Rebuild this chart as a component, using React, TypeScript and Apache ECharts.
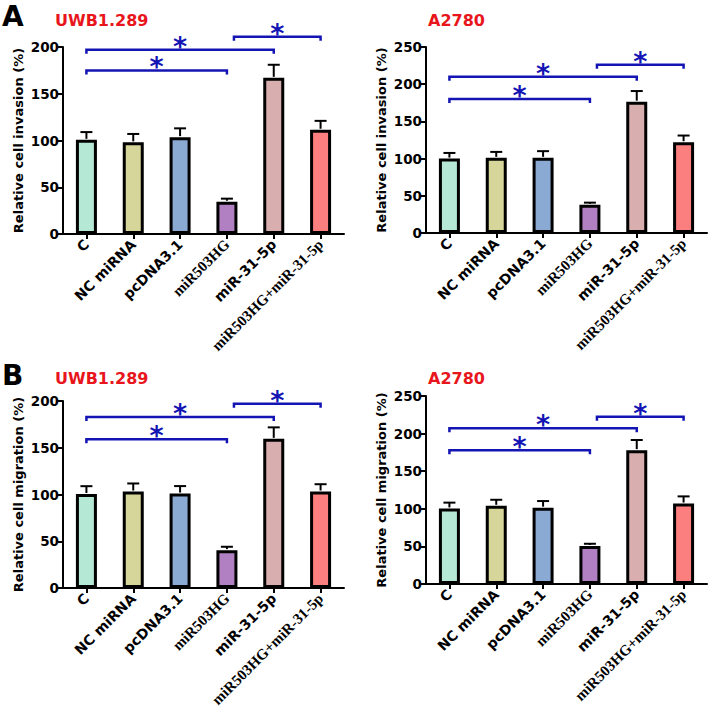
import React, { useEffect, useRef } from 'react';
import * as echarts from 'echarts';

const categories = ['C', 'NC miRNA', 'pcDNA3.1', 'miR503HG', 'miR-31-5p', 'miR503HG+miR-31-5p'];

// Panel A: Relative cell invasion (%)
const invasionUWBMean = [100.7, 98, 103.6, 34.5, 167, 111.5];
const invasionUWBErr = [8.3, 9, 9.4, 3.3, 14, 9.5];
const invasionA2780Mean = [100, 101, 101, 38, 176.5, 122];
const invasionA2780Err = [7.6, 8, 9, 2.8, 14.3, 9];

// Panel B: Relative cell migration (%)
const migrationUWBMean = [100.5, 103.2, 101, 40.5, 159.5, 103.2];
const migrationUWBErr = [8.4, 8.6, 8, 3.6, 12.3, 7.8];
const migrationA2780Mean = [100.5, 104, 101.5, 50.5, 178, 107];
const migrationA2780Err = [7.7, 8, 8.8, 3, 13.5, 9.5];

// significance brackets: [from category index, to category index, level]
const invasionUWBBrackets = [[0, 3, 175], [0, 4, 197], [3.15, 5, 211]];
const invasionA2780Brackets = [[0, 3, 180], [0, 4, 210], [3.15, 5, 226]];
const migrationUWBBrackets = [[0, 3, 159], [0, 4, 183], [3.15, 5, 197]];
const migrationA2780Brackets = [[0, 3, 178], [0, 4, 207], [3.15, 5, 222.5]];

const yMaxUWB = 200;
const yMaxA2780 = 250;
const yInterval = 50;

const barColors = ['#b5e8d5', '#d6d69a', '#8aaad4', '#b080c2', '#d8afae', '#fc7f7f'];
const serifLabels = new Set(['miR503HG', 'miR503HG+miR-31-5p']);
const BLUE = '#1414b4';
const RED = '#e8161c';
const SANS = 'DejaVu Sans';

export default function App() {
  const ref = useRef<HTMLDivElement>(null);

  useEffect(() => {
    if (!ref.current) return;
    const chart = echarts.init(ref.current, undefined, { renderer: 'svg' });

    const panels = [
      { grid: { left: 63, top: 47, width: 281, height: 187 }, max: yMaxUWB, name: 'Relative cell invasion (%)', mean: invasionUWBMean, err: invasionUWBErr, br: invasionUWBBrackets },
      { grid: { left: 426, top: 47, width: 281, height: 186 }, max: yMaxA2780, name: 'Relative cell invasion (%)', mean: invasionA2780Mean, err: invasionA2780Err, br: invasionA2780Brackets },
      { grid: { left: 63, top: 401, width: 281, height: 187 }, max: yMaxUWB, name: 'Relative cell migration (%)', mean: migrationUWBMean, err: migrationUWBErr, br: migrationUWBBrackets },
      { grid: { left: 426, top: 396, width: 281, height: 188 }, max: yMaxA2780, name: 'Relative cell migration (%)', mean: migrationA2780Mean, err: migrationA2780Err, br: migrationA2780Brackets },
    ];

    const axisLine = { show: true, lineStyle: { color: '#000', width: 2 } };

    const xAxis = panels.map((p, i) => ({
      type: 'category',
      gridIndex: i,
      data: categories,
      axisLine: { ...axisLine, onZero: false },
      axisTick: { show: true, alignWithLabel: true, length: 5, lineStyle: { color: '#000', width: 2 } },
      axisLabel: {
        rotate: 45,
        interval: 0,
        margin: 8,
        formatter: (v: string) => (serifLabels.has(v) ? `{s|${v}}` : `{n|${v}}`),
        rich: {
          s: { fontFamily: 'Liberation Serif', fontWeight: 'bold', fontSize: 15, color: '#000' },
          n: { fontFamily: SANS, fontWeight: 'bold', fontSize: 14, color: '#000' },
        },
      },
      splitLine: { show: false },
    }));

    const yAxis = panels.map((p, i) => ({
      type: 'value',
      gridIndex: i,
      min: 0,
      max: p.max,
      interval: yInterval,
      name: p.name,
      nameLocation: 'middle',
      nameRotate: 90,
      nameGap: 38,
      nameTextStyle: { fontFamily: SANS, fontWeight: 'bold', fontSize: 13, color: '#000' },
      axisLine,
      axisTick: { show: true, length: 5, lineStyle: { color: '#000', width: 2 } },
      axisLabel: { fontFamily: SANS, fontWeight: 'bold', fontSize: 13.5, color: '#000', margin: 4 },
      splitLine: { show: false },
    }));

    const series: any[] = [];
    panels.forEach((p, i) => {
      series.push({
        type: 'bar',
        xAxisIndex: i,
        yAxisIndex: i,
        barWidth: 21,
        data: p.mean.map((v, k) => ({ value: v, itemStyle: { color: barColors[k] } })),
        itemStyle: { borderColor: '#000', borderWidth: 3 },
        z: 2,
      });
      series.push({
        type: 'custom',
        xAxisIndex: i,
        yAxisIndex: i,
        z: 3,
        data: p.mean.map((v, k) => [k, v, v + p.err[k]]),
        renderItem: (params: any, api: any) => {
          const k = api.value(0);
          const lo = api.coord([k, api.value(1)]);
          const hi = api.coord([k, api.value(2)]);
          const st = { stroke: '#000', lineWidth: 2 };
          return {
            type: 'group',
            children: [
              { type: 'line', shape: { x1: lo[0], y1: lo[1] - 1, x2: hi[0], y2: hi[1] }, style: st },
              { type: 'line', shape: { x1: hi[0] - 6, y1: hi[1], x2: hi[0] + 6, y2: hi[1] }, style: st },
            ],
          };
        },
      });
      series.push({
        type: 'custom',
        xAxisIndex: i,
        yAxisIndex: i,
        z: 4,
        clip: false,
        data: p.br.map((b) => [Math.round(b[0]), b[2]]),
        renderItem: (params: any, api: any) => {
          const b = p.br[params.dataIndex];
          const pos = (idx: number, v: number) => {
            const f = Math.floor(idx);
            const frac = idx - f;
            const a = api.coord([f, v]);
            if (frac === 0) return a;
            const c = api.coord([f + 1, v]);
            return [a[0] + (c[0] - a[0]) * frac, a[1]];
          };
          const p1 = pos(b[0], b[2]);
          const p2 = pos(b[1], b[2]);
          const y = p1[1];
          return {
            type: 'group',
            children: [
              {
                type: 'polyline',
                shape: { points: [[p1[0], y + 4], [p1[0], y], [p2[0], y], [p2[0], y + 4]] },
                style: { stroke: BLUE, lineWidth: 2.5, fill: 'none' },
              },
              {
                type: 'text',
                x: (p1[0] + p2[0]) / 2,
                y: y - 3.5,
                style: { text: '*', fill: BLUE, font: `bold 27px "${SANS}"`, textAlign: 'center', textVerticalAlign: 'middle' },
              },
            ],
          };
        },
      });
    });

    const label = (text: string, left: number, top: number, size: number, color: string) => ({
      type: 'text',
      left,
      top,
      style: { text, fill: color, font: `bold ${size}px "${SANS}"` },
    });

    chart.setOption({
      animation: false,
      backgroundColor: '#fff',
      grid: panels.map((p) => p.grid),
      xAxis,
      yAxis,
      series,
      graphic: [
        label('A', 2, 2, 28, '#000'),
        label('B', 2, 361, 28, '#000'),
        label('UWB1.289', 55, 12, 16, RED),
        label('A2780', 428, 12, 16, RED),
        label('UWB1.289', 55, 370, 16, RED),
        label('A2780', 428, 370, 16, RED),
      ],
    });

    return () => chart.dispose();
  }, []);

  return <div ref={ref} style={{ position: 'absolute', left: 0, top: 0, width: 709, height: 718, background: '#fff' }} />;
}
